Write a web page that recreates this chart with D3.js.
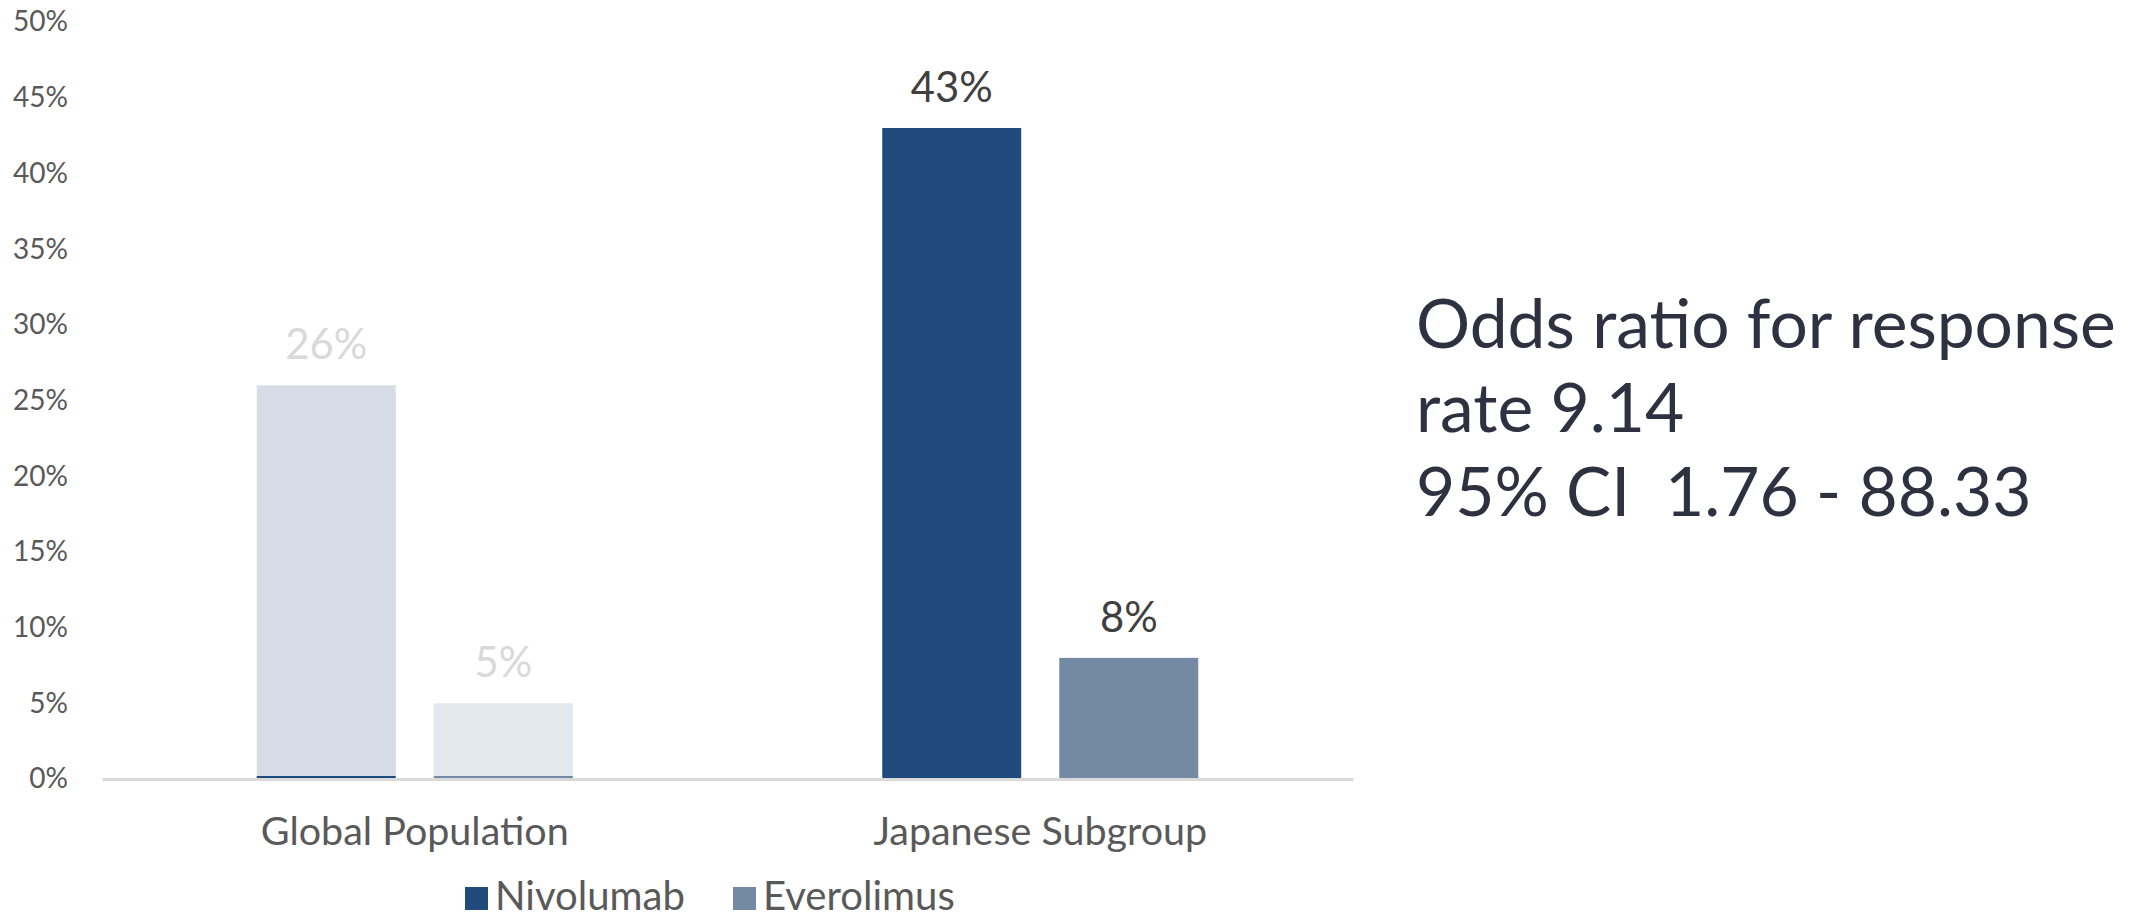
<!DOCTYPE html>
<html>
<head>
<meta charset="utf-8">
<script src="https://cdn.jsdelivr.net/npm/d3@7/dist/d3.min.js"></script>
<style>
  html, body { margin: 0; padding: 0; background: #fff; }
  svg { display: block; font-family: Lato, "Open Sans", sans-serif; }
</style>
</head>
<body>
<svg id="chart" width="2143" height="922"></svg>
<script>
// data
var categories = ['Global Population', 'Japanese Subgroup'];
var seriesNames = ['Nivolumab', 'Everolimus'];
var nivolumab = [0.26, 0.43];
var everolimus = [0.05, 0.08];
var highlighted = [false, true];
var yTicks = [0, 0.05, 0.10, 0.15, 0.20, 0.25, 0.30, 0.35, 0.40, 0.45, 0.50];
var oddsLines = ['Odds ratio for response', 'rate 9.14', '95% CI  1.76 - 88.33'];

var colors = ['#214a7c', '#7489a4'];
var fadedColors = ['#d5dce5', '#e3e8ec'];

var svg = d3.select('#chart');

// pick a font size so a sample string takes the width it has in the original
function fitSize(sample, target) {
    var t = svg.append('text').attr('font-size', 100).text(sample);
    var w = t.node().getComputedTextLength();
    t.remove();
    return 100 * target / w;
}

var tickSize = fitSize('50%', 55);
var catSize = fitSize('Global Population', 308);
var valueSize = fitSize('43%', 82);
var legendSize = fitSize('Nivolumab', 190);
var oddsSize = fitSize(oddsLines[0], 700);

var x0 = d3.scaleBand().domain(categories).range([102, 1353]).padding(0);
var x1 = d3.scaleBand().domain(seriesNames).range([0, x0.bandwidth()])
    .paddingInner(0.215).paddingOuter(0.874);
var y = d3.scaleLinear().domain([0, 0.5]).range([779, 22]);

// y axis, labels only
var yAxis = svg.append('g')
    .attr('transform', 'translate(102,0)')
    .call(d3.axisLeft(y).tickValues(yTicks).tickFormat(d3.format('.0%')).tickSize(0).tickPadding(34));
yAxis.select('.domain').remove();
yAxis.selectAll('text')
    .attr('font-size', tickSize)
    .attr('font-family', 'Lato, sans-serif')
    .attr('fill', '#595959');

var rows = categories.map(function(c, i) {
    return {
        category: c,
        faded: !highlighted[i],
        values: [
            { name: seriesNames[0], value: nivolumab[i], idx: 0 },
            { name: seriesNames[1], value: everolimus[i], idx: 1 }
        ]
    };
});

var groups = svg.append('g').selectAll('g')
    .data(rows)
    .join('g')
    .attr('transform', function(d) { return 'translate(' + x0(d.category) + ',0)'; });

groups.each(function(row) {
    var g = d3.select(this);
    g.selectAll('rect.bar')
        .data(row.values)
        .join('rect')
        .attr('class', 'bar')
        .attr('x', function(d) { return x1(d.name); })
        .attr('width', x1.bandwidth())
        .attr('y', function(d) { return y(d.value); })
        .attr('height', function(d) { return y(0) - y(d.value); })
        .attr('fill', function(d) { return row.faded ? fadedColors[d.idx] : colors[d.idx]; });

    if (row.faded) {
        // thin line of the real colour left at the base of the faded bars
        g.selectAll('line.base')
            .data(row.values)
            .join('line')
            .attr('class', 'base')
            .attr('x1', function(d) { return x1(d.name); })
            .attr('x2', function(d) { return x1(d.name) + x1.bandwidth(); })
            .attr('y1', y(0) - 2)
            .attr('y2', y(0) - 2)
            .attr('stroke', function(d) { return colors[d.idx]; })
            .attr('stroke-width', 2);
    }

    g.selectAll('text.value')
        .data(row.values)
        .join('text')
        .attr('class', 'value')
        .attr('x', function(d) { return x1(d.name) + x1.bandwidth() / 2; })
        .attr('y', function(d) { return y(d.value) - 26; })
        .attr('text-anchor', 'middle')
        .attr('font-size', valueSize)
        .attr('fill', row.faded ? '#d9d9d9' : '#404040')
        .text(function(d) { return d3.format('.0%')(d.value); });
});

// category axis
var xAxis = svg.append('g')
    .attr('transform', 'translate(0,' + y(0) + ')')
    .call(d3.axisBottom(x0).tickSize(0).tickSizeOuter(0));
xAxis.select('.domain').attr('stroke', '#d9d9d9').attr('stroke-width', 3);
xAxis.selectAll('text')
    .attr('y', 66)
    .attr('dy', 0)
    .attr('font-size', catSize)
    .attr('font-family', 'Lato, sans-serif')
    .attr('fill', '#595959');

// legend
var legendX = [465, 733];
var legend = svg.append('g').selectAll('g')
    .data(seriesNames)
    .join('g')
    .attr('transform', function(d, i) { return 'translate(' + legendX[i] + ',887)'; });
legend.append('rect')
    .attr('width', 23)
    .attr('height', 23)
    .attr('fill', function(d, i) { return colors[i]; });
legend.append('text')
    .attr('x', 30)
    .attr('y', 23)
    .attr('font-size', legendSize)
    .attr('fill', '#595959')
    .text(function(d) { return d; });

// odds ratio note
svg.append('text')
    .attr('x', 1416)
    .attr('y', 348)
    .attr('font-size', oddsSize)
    .attr('fill', '#2e3140')
    .selectAll('tspan')
    .data(oddsLines)
    .join('tspan')
    .attr('x', 1416)
    .attr('dy', function(d, i) { return i === 0 ? 0 : 84; })
    .attr('xml:space', 'preserve')
    .style('white-space', 'pre')
    .text(function(d) { return d; });
</script>
</body>
</html>
